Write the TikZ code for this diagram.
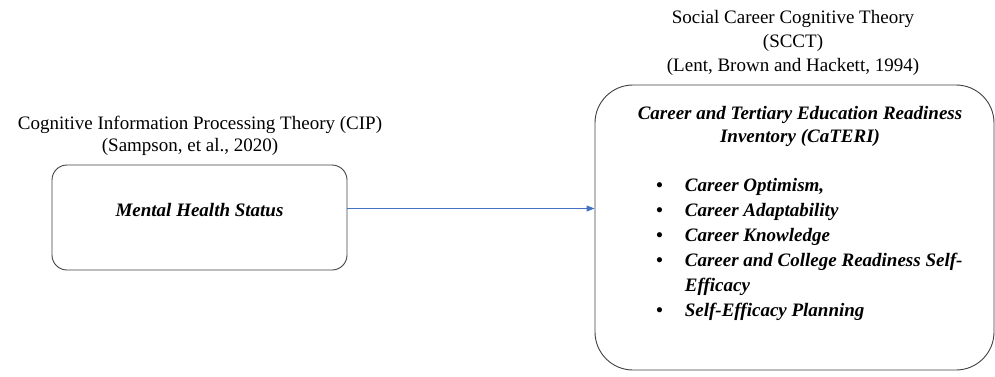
\documentclass[tikz,border=0pt]{standalone}
\usepackage{fontspec}
\setmainfont{Liberation Serif}
\usetikzlibrary{positioning,arrows.meta}
\definecolor{linkblue}{RGB}{68,114,196}
\tikzset{
  smallbox/.style={draw=black!75, line width=0.9pt, rounded corners=15pt},
  bigbox/.style={draw=black!75, line width=0.9pt, rounded corners=38pt},
  theory/.style={align=center},
  measure/.style={font=\fontsize{19}{23}\selectfont\bfseries\itshape, align=center},
  link/.style={draw=linkblue, line width=0.9pt, -{Triangle[length=8pt,width=6pt]}}
}
\begin{document}
\begin{tikzpicture}[x=1pt,y=-1pt,
  every node/.style={font=\fontsize{19}{24}\selectfont, inner sep=0pt}]
\useasboundingbox (0,0) rectangle (995,376);

% left theory
\node[theory] (cip) at (200,125) {Cognitive Information Processing Theory (CIP)};
\node[theory] (cipref) at (190,147) {(Sampson, et al., 2020)};
\node[smallbox, measure, minimum width=295pt, minimum height=105pt, text depth=15pt] (health) at (199.5,217.5) {Mental Health Status};

% right theory
\node[theory] (scctname) at (793,43) {Social Career Cognitive Theory\\(SCCT)\\(Lent, Brown and Hackett, 1994)};
\node[bigbox, minimum width=399pt, minimum height=285pt] (scct) at (794.5,227.5) {};
\node[measure] (cateri) at (800,126) {Career and Tertiary Education Readiness\\Inventory (CaTERI)};
\node[measure, font=\fontsize{19}{25}\selectfont\bfseries\itshape, anchor=base west, align=left] (scales) at (656,191) {%
  \begin{tabular}[t]{@{}l@{\hspace{22pt}}l@{}}
    \textbullet & Career Optimism,\\
    \textbullet & Career Adaptability\\
    \textbullet & Career Knowledge\\
    \textbullet & Career and College Readiness Self-\\
                & Efficacy\\
    \textbullet & Self-Efficacy Planning
  \end{tabular}};

\draw[link] ([yshift=9pt]health.east) -- ([yshift=9pt]health.east -| scct.west);
\end{tikzpicture}
\end{document}
